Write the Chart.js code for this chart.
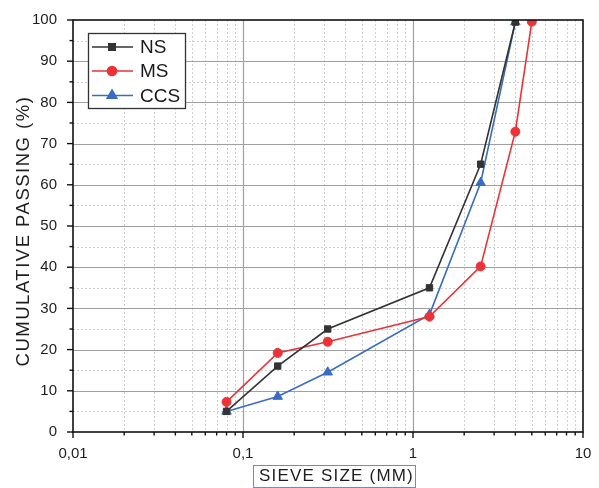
<!DOCTYPE html>
<html><head><meta charset="utf-8">
<script src="https://cdn.jsdelivr.net/npm/chart.js@4"></script>
<style>html,body{margin:0;padding:0;background:#fff;}#wrap{width:599px;height:488px;}</style>
</head><body><div id="wrap"><canvas id="c" width="599" height="488"></canvas></div>
<script>
const sieveNS = [0.08, 0.16, 0.315, 1.25, 2.5, 4];
const passNS  = [5, 16, 25, 35, 65, 99.5];
const sieveMS = [0.08, 0.16, 0.315, 1.25, 2.5, 4, 5];
const passMS  = [7.3, 19.2, 21.9, 28, 40.2, 72.9, 99.6];
const sieveCCS = [0.08, 0.16, 0.315, 1.25, 2.5, 4];
const passCCS  = [5, 8.6, 14.5, 28.5, 60.5, 99.5];
const seriesNames = ['NS', 'MS', 'CCS'];
const xTickLabels = {'0.01':'0,01','0.1':'0,1','1':'1','10':'10'};
const xTitle = 'SIEVE SIZE (MM)';
const yTitle = 'CUMULATIVE PASSING (%)';

const colors = ['#333333', '#ec3237', '#3a6cc6'];
const styles = ['rect', 'circle', 'triangle'];
const radii = [4.5, 4.5, 5.5];
const FONT = '"Liberation Sans", Arial, sans-serif';

function pts(xs, ys){ return xs.map((x,i)=>({x:x,y:ys[i]})); }

const decorPlugin = {
  id:'decor',
  beforeDatasetsDraw(chart){
    const {ctx, chartArea:a, scales:{x, y}} = chart;
    ctx.save();
    ctx.strokeStyle = '#cfcfcf'; ctx.lineWidth = 1; ctx.setLineDash([2,2]);
    for (let d=-2; d<=0; d++) for (let k=2; k<=9; k++){
      const px = Math.round(x.getPixelForValue(k*Math.pow(10,d)))+0.5;
      ctx.beginPath(); ctx.moveTo(px,a.top); ctx.lineTo(px,a.bottom); ctx.stroke();
    }
    for (let v=5; v<100; v+=10){
      const py = Math.round(y.getPixelForValue(v))+0.5;
      ctx.beginPath(); ctx.moveTo(a.left,py); ctx.lineTo(a.right,py); ctx.stroke();
    }
    ctx.setLineDash([]); ctx.strokeStyle = '#a0a0a0'; ctx.lineWidth = 1.2;
    [0.1, 1].forEach(v=>{
      const px = Math.round(x.getPixelForValue(v))+0.5;
      ctx.beginPath(); ctx.moveTo(px,a.top); ctx.lineTo(px,a.bottom); ctx.stroke();
    });
    for (let v=10; v<100; v+=10){
      const py = Math.round(y.getPixelForValue(v))+0.5;
      ctx.beginPath(); ctx.moveTo(a.left,py); ctx.lineTo(a.right,py); ctx.stroke();
    }
    ctx.restore();
  },
  afterDatasetsDraw(chart){
    const {ctx, chartArea:a, scales:{x, y}} = chart;
    ctx.save();
    ctx.strokeStyle = '#111'; ctx.lineWidth = 1.6;
    ctx.strokeRect(a.left, a.top, a.right-a.left, a.bottom-a.top);
    ctx.lineWidth = 1.4;
    for (let v=0; v<=100; v+=5){
      const py = y.getPixelForValue(v);
      const len = v%10===0 ? 6 : 3.5;
      ctx.beginPath(); ctx.moveTo(a.left-len,py); ctx.lineTo(a.left,py); ctx.stroke();
    }
    for (let d=-2; d<=1; d++){
      const px = x.getPixelForValue(Math.pow(10,d));
      ctx.beginPath(); ctx.moveTo(px,a.bottom); ctx.lineTo(px,a.bottom+6); ctx.stroke();
      if (d<1) for (let k=2; k<=9; k++){
        const p2 = x.getPixelForValue(k*Math.pow(10,d));
        ctx.beginPath(); ctx.moveTo(p2,a.bottom); ctx.lineTo(p2,a.bottom+3.5); ctx.stroke();
      }
    }
    // legend
    const lx=88, ly=33, lw=97, lh=75;
    ctx.fillStyle='#fff'; ctx.fillRect(lx,ly,lw,lh);
    ctx.strokeStyle='#333'; ctx.lineWidth=1.3; ctx.strokeRect(lx+0.5,ly+0.5,lw,lh);
    [47, 71, 95.5].forEach((cy,i)=>{
      ctx.strokeStyle=colors[i]; ctx.lineWidth=1.6;
      ctx.beginPath(); ctx.moveTo(lx+4,cy); ctx.lineTo(lx+45,cy); ctx.stroke();
      ctx.fillStyle=colors[i];
      Chart.helpers.drawPoint(ctx,{pointStyle:styles[i],radius:radii[i],borderWidth:1,rotation:0},lx+24,cy);
      ctx.fill();
      ctx.fillStyle='#1a1a1a'; ctx.font='19px '+FONT; ctx.textBaseline='middle'; ctx.textAlign='left';
      ctx.fillText(seriesNames[i], lx+52, cy+1);
    });
    // titles
    ctx.fillStyle='#1e1e1e'; ctx.textAlign='center'; ctx.textBaseline='middle';
    ctx.font='17px '+FONT;
    ctx.letterSpacing='1.2px';
    ctx.fillText(xTitle, 336.5, 476.5);
    ctx.letterSpacing='0px';
    ctx.strokeStyle='#5b8fe0'; ctx.lineWidth=1;
    ctx.strokeRect(253.5, 465.5, 162, 22);
    ctx.font='18.5px '+FONT;
    ctx.letterSpacing='1.5px';
    ctx.save(); ctx.translate(24, 231); ctx.rotate(-Math.PI/2);
    ctx.fillText(yTitle, 0, 0); ctx.restore();
    ctx.letterSpacing='0px';
    ctx.restore();
  }
};

const datasets = [pts(sieveNS,passNS), pts(sieveMS,passMS), pts(sieveCCS,passCCS)].map((d,i)=>({
  label: seriesNames[i], data: d, borderColor: colors[i], backgroundColor: colors[i],
  pointStyle: styles[i], pointRadius: radii[i], pointBorderWidth: 1, borderWidth: 1.6,
  tension: 0, fill: false
}));

new Chart(document.getElementById('c'), {
  type: 'line',
  data: { datasets },
  options: {
    responsive: false, animation: false,
    layout: { padding: { top: 20, right: 16, left: 0, bottom: 0 } },
    plugins: { legend: { display: false }, tooltip: { enabled: false } },
    scales: {
      x: {
        type: 'logarithmic', min: 0.01, max: 10,
        grid: { display: false }, border: { display: false },
        afterFit: s => { s.height = 56; s.paddingLeft = 0; s.paddingRight = 0; },
        ticks: {
          autoSkip: false, maxRotation: 0, padding: 5, color: '#1e1e1e',
          font: { size: 15, family: FONT },
          callback: v => { const l = Math.log10(v); return Math.abs(l-Math.round(l))<1e-6 ? xTickLabels[String(Math.pow(10,Math.round(l)))] : ''; }
        }
      },
      y: {
        type: 'linear', min: 0, max: 100,
        grid: { display: false }, border: { display: false },
        afterFit: s => { s.width = 73; s.paddingTop = 0; s.paddingBottom = 0; },
        ticks: { stepSize: 10, padding: 8, color: '#1e1e1e', font: { size: 15, family: FONT } }
      }
    }
  },
  plugins: [decorPlugin]
});
</script></body></html>
